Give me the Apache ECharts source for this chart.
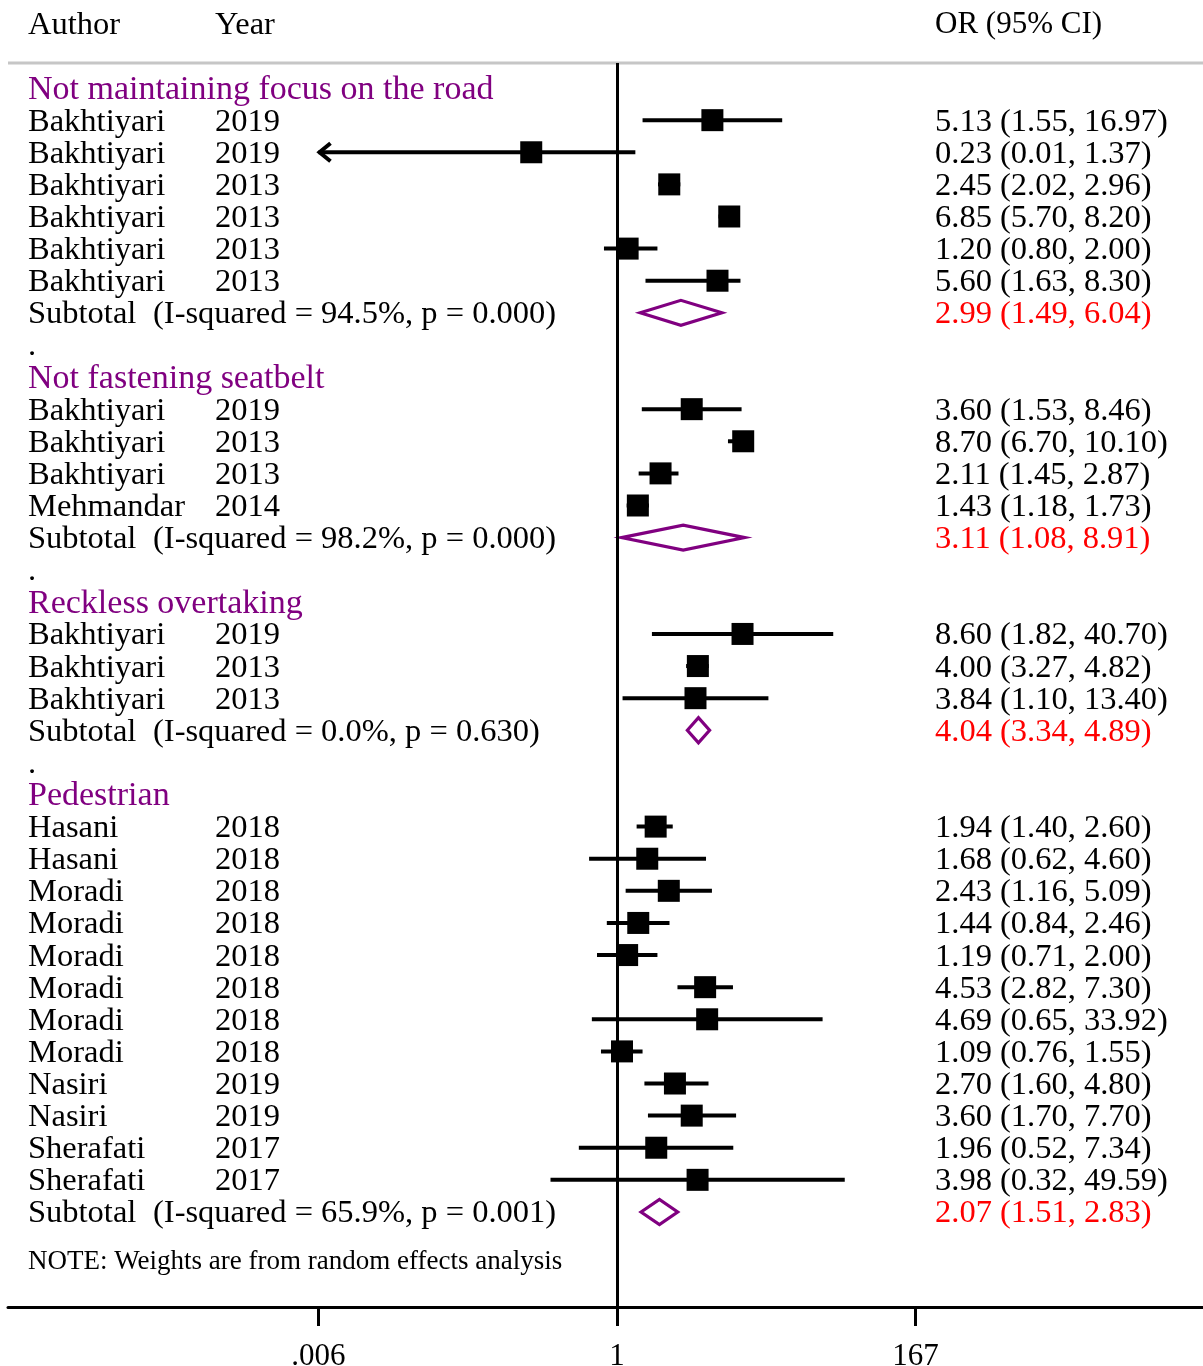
<!DOCTYPE html>
<html><head><meta charset="utf-8">
<script src="https://cdn.jsdelivr.net/npm/echarts@6/dist/echarts.min.js"></script>
<style>html,body{margin:0;padding:0;background:#fff}#chart{width:1203px;height:1366px}</style>
</head><body><div id="chart"></div>
<script>
// ---------------- DATA ----------------
const groupNames = ['Not maintaining focus on the road', 'Not fastening seatbelt', 'Reckless overtaking', 'Pedestrian'];
const studyGroup  = [0, 0, 0, 0, 0, 0, 1, 1, 1, 1, 2, 2, 2, 3, 3, 3, 3, 3, 3, 3, 3, 3, 3, 3, 3];
const studyAuthor = ['Bakhtiyari', 'Bakhtiyari', 'Bakhtiyari', 'Bakhtiyari', 'Bakhtiyari', 'Bakhtiyari',
                     'Bakhtiyari', 'Bakhtiyari', 'Bakhtiyari', 'Mehmandar',
                     'Bakhtiyari', 'Bakhtiyari', 'Bakhtiyari',
                     'Hasani', 'Hasani', 'Moradi', 'Moradi', 'Moradi', 'Moradi', 'Moradi', 'Moradi', 'Nasiri', 'Nasiri', 'Sherafati', 'Sherafati'];
const studyYear   = [2019, 2019, 2013, 2013, 2013, 2013,
                     2019, 2013, 2013, 2014,
                     2019, 2013, 2013,
                     2018, 2018, 2018, 2018, 2018, 2018, 2018, 2018, 2019, 2019, 2017, 2017];
const studyOR     = [5.13, 0.23, 2.45, 6.85, 1.20, 5.60,
                     3.60, 8.70, 2.11, 1.43,
                     8.60, 4.00, 3.84,
                     1.94, 1.68, 2.43, 1.44, 1.19, 4.53, 4.69, 1.09, 2.70, 3.60, 1.96, 3.98];
const studyLower  = [1.55, 0.0054, 2.02, 5.70, 0.80, 1.63,
                     1.53, 6.70, 1.45, 1.18,
                     1.82, 3.27, 1.10,
                     1.40, 0.62, 1.16, 0.84, 0.71, 2.82, 0.65, 0.76, 1.60, 1.70, 0.52, 0.32];
const studyUpper  = [16.97, 1.37, 2.96, 8.20, 2.00, 8.30,
                     8.46, 10.10, 2.87, 1.73,
                     40.70, 4.82, 13.40,
                     2.60, 4.60, 5.09, 2.46, 2.00, 7.30, 33.92, 1.55, 4.80, 7.70, 7.34, 49.59];
const subtotalOR    = [2.99, 3.11, 4.04, 2.07];
const subtotalLower = [1.49, 1.08, 3.34, 1.51];
const subtotalUpper = [6.04, 8.91, 4.89, 2.83];
const subtotalI2    = ['94.5%', '98.2%', '0.0%', '65.9%'];
const subtotalP     = ['0.000', '0.000', '0.630', '0.001'];
const tickValues = [0.006, 1, 167];
const tickLabels = ['.006', '1', '167'];
const noteText = 'NOTE: Weights are from random effects analysis';
const headerTexts = ['Author', 'Year', 'OR (95% CI)'];

// ---------------- LAYOUT / STYLE ----------------
const FONT = '"Liberation Serif", serif';
const FS = 32.5;
const FS_GROUP = 34;
const FS_NOTE = 27;
const PURPLE = '#800080';
const RED = '#ff0000';
const TEXT_DY = 2;
const X_MIN_LOG = -4.533, X_MAX_LOG = 4.362;
const clipLow = Math.log10(tickValues[0]), clipHigh = Math.log10(tickValues[tickValues.length - 1]);
const COL_AUTHOR = 28, COL_YEAR = 215, COL_ISQ = 153, COL_CI = 935;

// build rows
const rows = [];
groupNames.forEach((name, g) => {
  rows.push({ type: 'header', g });
  studyGroup.forEach((sg, i) => { if (sg === g) rows.push({ type: 'study', i }); });
  rows.push({ type: 'subtotal', g });
  if (g < groupNames.length - 1) rows.push({ type: 'dot' });
});
rows.forEach((r, k) => { r.row = k; });
const noteRow = rows.length + 0.5;

const fmt = v => v.toFixed(2);
const ciText = (o, l, u) => fmt(o) + ' (' + fmt(l) + ', ' + fmt(u) + ')';

const studyData = [];
const diamondData = [];
rows.forEach(r => {
  if (r.type === 'study') {
    const i = r.i;
    const lo = Math.log10(studyLower[i]), hi = Math.log10(studyUpper[i]);
    studyData.push([Math.log10(studyOR[i]), r.row, Math.max(lo, clipLow), Math.min(hi, clipHigh), lo < clipLow ? 1 : 0, hi > clipHigh ? 1 : 0]);
  } else if (r.type === 'subtotal') {
    const g = r.g;
    diamondData.push([Math.log10(subtotalOR[g]), r.row, Math.log10(subtotalLower[g]), Math.log10(subtotalUpper[g])]);
  }
});
const textData = rows.map(r => [0, r.row]);
textData.push([0, noteRow]);

function txt(x, y, str, color, size) {
  return { type: 'text', x: x, y: y + TEXT_DY, style: { text: str, fill: color || '#000', font: (size || FS) + 'px ' + FONT, align: 'left', verticalAlign: 'middle' } };
}

const chart = echarts.init(document.getElementById('chart'), null, { renderer: 'canvas' });
chart.setOption({
  backgroundColor: '#fff',
  animation: false,
  grid: { left: 8, right: 0, top: 63, bottom: 59, containLabel: false, outerBoundsMode: 'none' },
  xAxis: {
    type: 'value', min: X_MIN_LOG, max: X_MAX_LOG,
    splitLine: { show: false },
    axisLine: { show: true, onZero: false, lineStyle: { color: '#000', width: 3 } },
    axisTick: { show: true, customValues: tickValues.map(v => Math.log10(v)), length: 19, lineStyle: { color: '#000', width: 3 } },
    axisLabel: {
      show: true, customValues: tickValues.map(v => Math.log10(v)), margin: 34,
      fontFamily: FONT, fontSize: 31, color: '#000',
      formatter: function (v) {
        let best = 0, bd = Infinity;
        tickValues.forEach((t, k) => { const d = Math.abs(Math.log10(t) - v); if (d < bd) { bd = d; best = k; } });
        return tickLabels[best];
      }
    }
  },
  yAxis: { type: 'value', min: -0.78, max: 37.96, inverse: true, show: false, splitLine: { show: false } },
  graphic: [
    { type: 'line', shape: { x1: 8, y1: 63, x2: 1203, y2: 63 }, style: { stroke: '#c6c6c6', lineWidth: 3 }, z: 1 },
    { type: 'text', x: COL_AUTHOR, y: 25, style: { text: headerTexts[0], font: FS + 'px ' + FONT, fill: '#000', verticalAlign: 'middle' } },
    { type: 'text', x: COL_YEAR, y: 25, style: { text: headerTexts[1], font: FS + 'px ' + FONT, fill: '#000', verticalAlign: 'middle' } },
    { type: 'text', x: COL_CI, y: 25, style: { text: headerTexts[2], font: '31px ' + FONT, fill: '#000', verticalAlign: 'middle' } }
  ],
  series: [
    {
      type: 'custom', name: 'ref', clip: false, data: [[0, 0]],
      renderItem: function () { return { type: 'group', children: [] }; },
      markLine: { silent: true, symbol: 'none', label: { show: false }, lineStyle: { color: '#000', width: 3, type: 'solid' }, data: [{ xAxis: 0 }] }
    },
    {
      type: 'custom', name: 'studies', clip: false, data: studyData, z: 3,
      renderItem: function (params, api) {
        const y = api.coord([0, api.value(1)])[1];
        const cx = api.coord([api.value(0), api.value(1)])[0];
        const lx = api.coord([api.value(2), api.value(1)])[0];
        const hx = api.coord([api.value(3), api.value(1)])[0];
        const S = 22;
        const ch = [
          { type: 'line', shape: { x1: lx, y1: y, x2: hx, y2: y }, style: { stroke: '#000', lineWidth: 4 } },
          { type: 'rect', shape: { x: cx - S / 2, y: y - S / 2, width: S, height: S }, style: { fill: '#000' } }
        ];
        if (api.value(4)) ch.push({ type: 'polyline', shape: { points: [[lx + 12, y - 9], [lx + 1, y], [lx + 12, y + 9]] }, style: { stroke: '#000', fill: 'none', lineWidth: 4 } });
        if (api.value(5)) ch.push({ type: 'polyline', shape: { points: [[hx - 12, y - 9], [hx - 1, y], [hx - 12, y + 9]] }, style: { stroke: '#000', fill: 'none', lineWidth: 4 } });
        return { type: 'group', children: ch };
      }
    },
    {
      type: 'custom', name: 'subtotals', clip: false, data: diamondData, z: 3,
      renderItem: function (params, api) {
        const y = api.coord([0, api.value(1)])[1];
        const cx = api.coord([api.value(0), api.value(1)])[0];
        const lx = api.coord([api.value(2), api.value(1)])[0];
        const hx = api.coord([api.value(3), api.value(1)])[0];
        const H = 12.5;
        return { type: 'polygon', shape: { points: [[lx, y], [cx, y - H], [hx, y], [cx, y + H]] }, style: { fill: 'none', stroke: PURPLE, lineWidth: 3.2 } };
      }
    },
    {
      type: 'custom', name: 'texts', clip: false, data: textData, z: 4,
      renderItem: function (params, api) {
        const y = api.coord([0, api.value(1)])[1];
        const r = rows[params.dataIndex];
        if (!r) return { type: 'group', children: [txt(COL_AUTHOR, y, noteText, '#000', FS_NOTE)] };
        if (r.type === 'header') return { type: 'group', children: [txt(COL_AUTHOR, y, groupNames[r.g], PURPLE, FS_GROUP)] };
        if (r.type === 'dot') return { type: 'group', children: [txt(COL_AUTHOR, y, '.', '#000')] };
        if (r.type === 'study') {
          const i = r.i;
          return { type: 'group', children: [
            txt(COL_AUTHOR, y, studyAuthor[i]),
            txt(COL_YEAR, y, String(studyYear[i])),
            txt(COL_CI, y, ciText(studyOR[i], studyLower[i], studyUpper[i]))
          ] };
        }
        const g = r.g;
        return { type: 'group', children: [
          txt(COL_AUTHOR, y, 'Subtotal'),
          txt(COL_ISQ, y, '(I-squared = ' + subtotalI2[g] + ', p = ' + subtotalP[g] + ')'),
          txt(COL_CI, y, ciText(subtotalOR[g], subtotalLower[g], subtotalUpper[g]), RED)
        ] };
      }
    }
  ]
});
</script></body></html>
